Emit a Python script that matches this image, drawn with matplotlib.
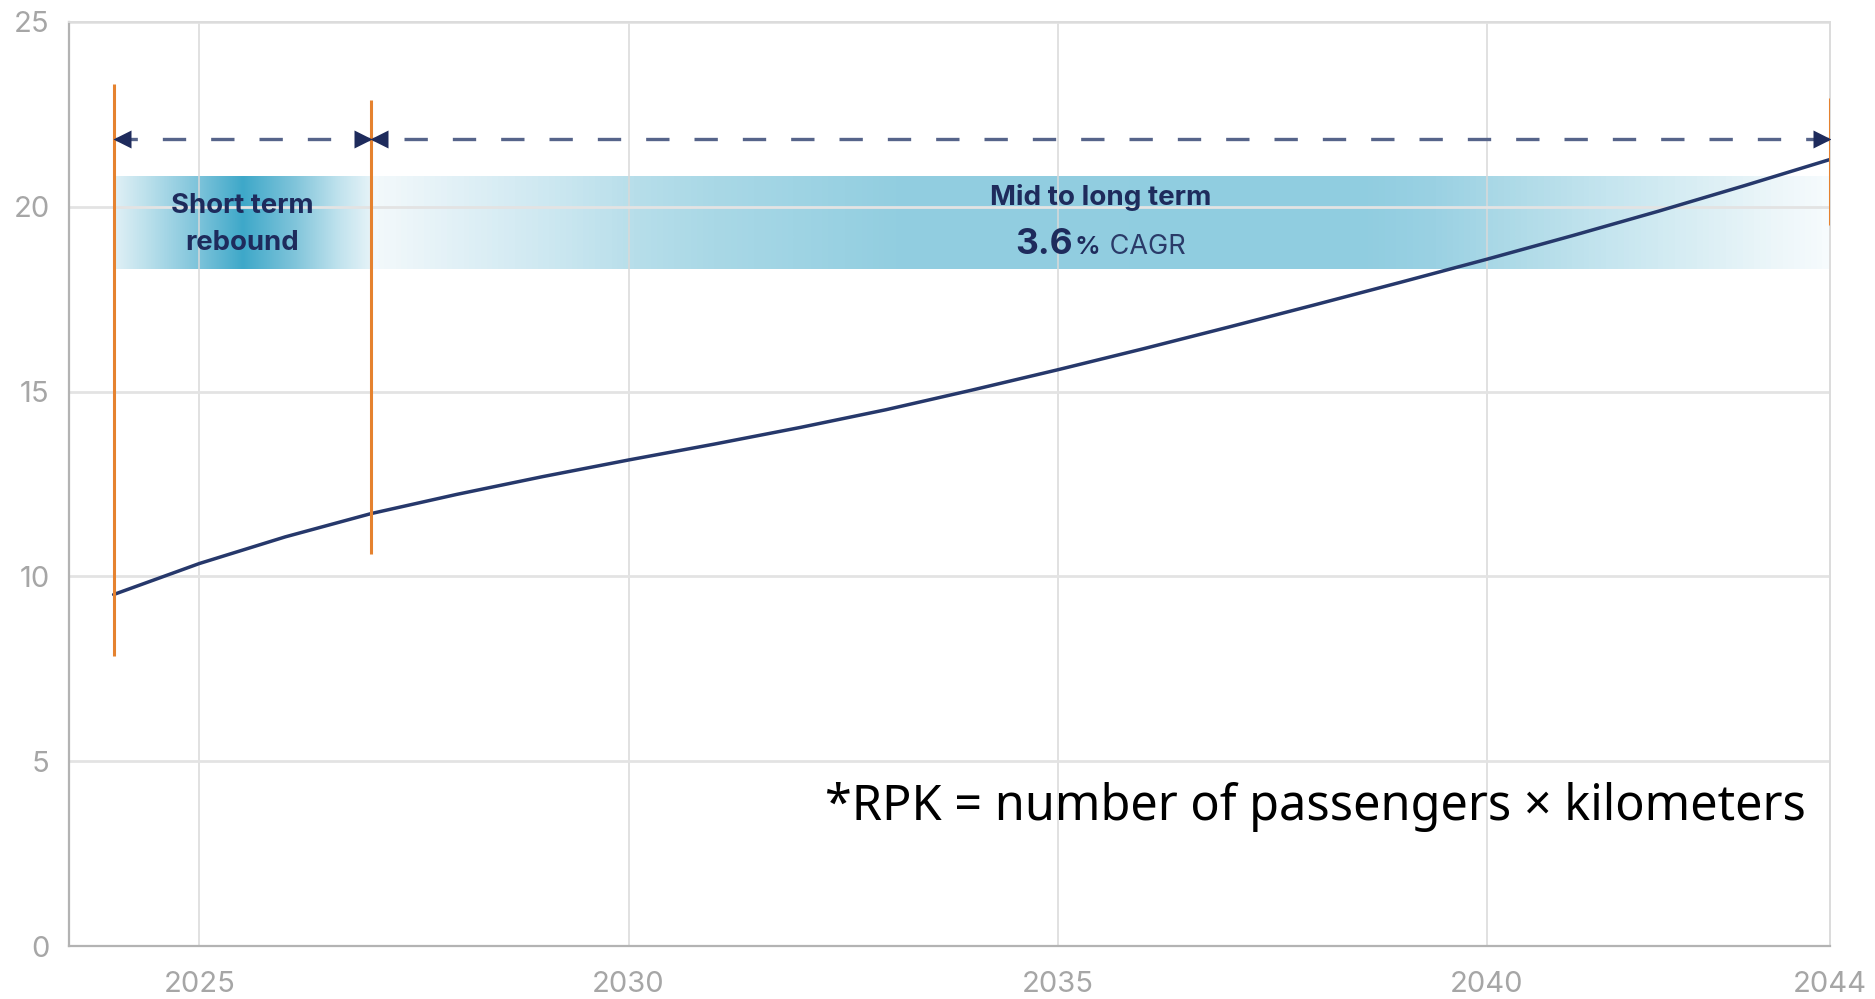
import numpy as np
import matplotlib
matplotlib.use("Agg")
import matplotlib.pyplot as plt
from matplotlib.colors import LinearSegmentedColormap
from matplotlib.offsetbox import TextArea, HPacker, AnnotationBbox
import matplotlib.transforms as mtransforms

plt.rcParams['font.family'] = ['Inter', 'DejaVu Sans']

# RPK forecast (trillions)
years = [2024, 2025, 2026, 2027, 2028, 2029, 2030, 2031, 2032, 2033, 2034,
         2035, 2036, 2037, 2038, 2039, 2040, 2041, 2042, 2043, 2044]
rpk = [9.51, 10.35, 11.07, 11.70, 12.22, 12.70, 13.15, 13.58, 14.03, 14.51, 15.04,
       15.59, 16.16, 16.75, 17.35, 17.96, 18.58, 19.22, 19.88, 20.57, 21.28]

# phase boundaries and the orange markers (bottom, top)
phase_years = [2024, 2027, 2044]
marker_low = [7.84, 10.62, 19.5]
marker_high = [23.33, 22.9, 22.93]
arrow_y = 21.83
band_low, band_high = 18.33, 20.83

phase_labels = ["Short term\nrebound", "Mid to long term"]
cagr_value = "3.6"
note = "*RPK = number of passengers \u00d7 kilometers"

xticks = [2025, 2030, 2035, 2040, 2044]
yticks = [0, 5, 10, 15, 20, 25]

navy = '#1e2b5c'
line_navy = '#26386b'
orange = '#e5822f'

fig = plt.figure(figsize=(18.75, 9.99), dpi=100)
ax = fig.add_axes([0.0368, 0.053, 0.9392, 0.925])
ax.set_xlim(2023.48, 2044)
ax.set_ylim(0, 25)

# gradient bands
short_cmap = LinearSegmentedColormap.from_list('short', [
    (0.0, '#e0f0f6'), (0.12, '#bde1ec'), (0.33, '#7cc3da'), (0.5, '#3ea8c9'),
    (0.7, '#7fc4da'), (0.87, '#bfe2ed'), (1.0, '#e6f3f8')])
long_cmap = LinearSegmentedColormap.from_list('long', [
    (0.0, '#f3f9fb'), (0.06, '#e0f0f6'), (0.12, '#cde8f1'), (0.18, '#b7deea'),
    (0.235, '#a9d8e6'), (0.29, '#9fd4e4'), (0.36, '#92cee0'), (0.68, '#90cde0'),
    (0.73, '#9ad1e3'), (0.79, '#b0dbe8'), (0.85, '#c5e5ef'), (0.91, '#d9eef4'),
    (0.97, '#eef7fa'), (1.0, '#f6fbfd')])
for i, cmap in enumerate([short_cmap, long_cmap]):
    grad = np.linspace(0, 1, 400).reshape(1, -1)
    ax.imshow(grad, cmap=cmap, aspect='auto', interpolation='bilinear',
              extent=[phase_years[i], phase_years[i + 1], band_low, band_high], zorder=0)

# grid
ax.set_xticks(xticks)
ax.set_yticks(yticks)
ax.xaxis.grid(True, color='#d9d9d9', lw=1.1)
ax.yaxis.grid(True, color='#e3e3e3', lw=2.0)
ax.set_axisbelow('line')
for s in ['left', 'bottom']:
    ax.spines[s].set_color('#b3b3b3')
    ax.spines[s].set_linewidth(1.6)
for s in ['top', 'right']:
    ax.spines[s].set_color('#dcdcdc')
    ax.spines[s].set_linewidth(1.4)
ax.tick_params(axis='both', length=0, labelsize=21, labelcolor='#a6a6a6')
ax.tick_params(axis='x', pad=18)
ax.tick_params(axis='y', pad=14)

# forecast line
ax.plot(years, rpk, color=line_navy, lw=2.5, zorder=4, solid_capstyle='round')

# orange phase markers
ax.vlines(phase_years, marker_low, marker_high, color=orange, lw=2.2, zorder=5)

# dashed span arrows
ax.plot([phase_years[0], phase_years[-1]], [arrow_y, arrow_y], color='#56648a',
        lw=2.4, dashes=(7, 7.5), zorder=3)
right_off = mtransforms.offset_copy(ax.transData, fig=fig, x=-8, y=0, units='dots')
left_off = mtransforms.offset_copy(ax.transData, fig=fig, x=8, y=0, units='dots')
ax.plot(phase_years[:-1], [arrow_y] * 2, ls='none', marker='<', ms=13,
        color=navy, mec='none', transform=left_off, zorder=6)
ax.plot(phase_years[1:], [arrow_y] * 2, ls='none', marker='>', ms=13,
        color=navy, mec='none', transform=right_off, zorder=6)

# phase labels
mid_short = (phase_years[0] + phase_years[1]) / 2
mid_long = (phase_years[1] + phase_years[2]) / 2
ax.text(mid_short, 19.52, phase_labels[0], ha='center', va='center', fontsize=19.8,
        fontweight='bold', color=navy, linespacing=1.55, zorder=7)
ax.text(mid_long, 20.24, phase_labels[1], ha='center', va='center', fontsize=20,
        fontweight='bold', color=navy, zorder=7)
box = HPacker(children=[
    TextArea(cagr_value, textprops=dict(fontsize=25.5, fontweight='bold', color=navy)),
    TextArea("%", textprops=dict(fontsize=18.5, fontweight='semibold', color=navy)),
    TextArea(" CAGR", textprops=dict(fontsize=19.5, color='#2a3a68')),
], align='baseline', pad=0, sep=1)
ab = AnnotationBbox(box, (mid_long, 18.97), frameon=False, box_alignment=(0.5, 0.5),
                    zorder=7)
ax.add_artist(ab)

# footnote
ax.text(2043.72, 3.41, note, ha='right', va='baseline', fontsize=35,
        family=['Noto Sans', 'DejaVu Sans'], color='black', zorder=7)

fig.savefig('out.png', dpi=100)
